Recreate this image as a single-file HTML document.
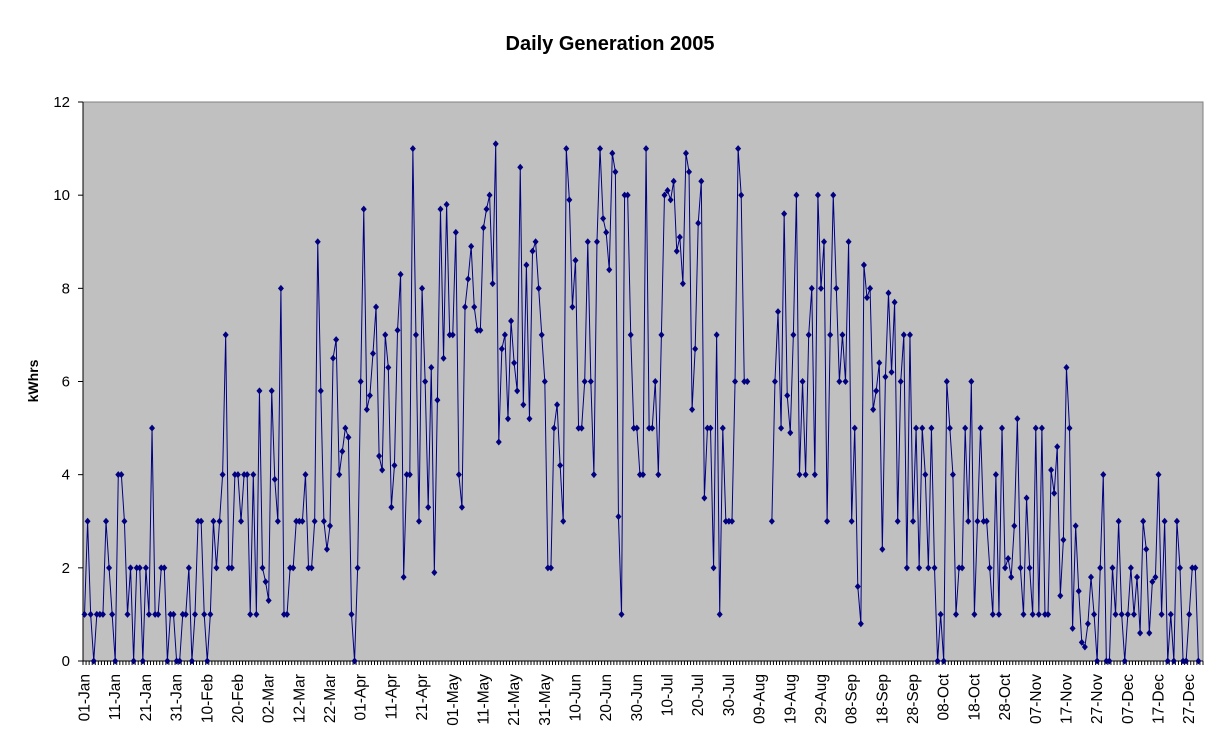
<!DOCTYPE html>
<html><head><meta charset="utf-8"><style>
html,body{margin:0;padding:0;background:#fff;}
svg{display:block;font-family:"Liberation Sans",Arial,sans-serif;}
</style></head><body>
<svg id="chart" width="1221" height="750" viewBox="0 0 1221 750" xmlns="http://www.w3.org/2000/svg">
<rect x="0" y="0" width="1221" height="750" fill="#fff"/>
<text x="610" y="50" text-anchor="middle" font-size="20" font-weight="bold">Daily Generation 2005</text>
<rect x="83" y="102" width="1120" height="559" fill="#C0C0C0" stroke="#808080" stroke-width="1"/>
<text transform="translate(38,381) rotate(-90)" text-anchor="middle" font-size="14" font-weight="bold">kWhrs</text>
<g id="axes"></g>
<g id="series"></g>
</svg>
<script>
const yTicks = [0,2,4,6,8,10,12];
const xTickLabels = ["01-Jan","11-Jan","21-Jan","31-Jan","10-Feb","20-Feb","02-Mar","12-Mar","22-Mar","01-Apr","11-Apr","21-Apr","01-May","11-May","21-May","31-May","10-Jun","20-Jun","30-Jun","10-Jul","20-Jul","30-Jul","09-Aug","19-Aug","29-Aug","08-Sep","18-Sep","28-Sep","08-Oct","18-Oct","28-Oct","07-Nov","17-Nov","27-Nov","07-Dec","17-Dec","27-Dec"];
const dailyKwh = [
1,3,1,0,1,1,1,3,2,1,0,4,4,3,1,2,0,2,2,0,2,1,5,1,1,2,2,0,1,1,0,0,1,1,2,
0,1,3,3,1,0,1,3,2,3,4,7,2,2,4,4,3,4,4,1,4,1,5.8,2,1.7,1.3,5.8,3.9,3,8,1,1,2,2,
3,3,3,4,2,2,3,9,5.8,3,2.4,2.9,6.5,6.9,4,4.5,5,4.8,1,0,2,6,9.7,5.4,5.7,6.6,7.6,4.4,4.1,7,6.3,3.3,4.2,7.1,8.3,
1.8,4,4,11,7,3,8,6,3.3,6.3,1.9,5.6,9.7,6.5,9.8,7,7,9.2,4,3.3,7.6,8.2,8.9,7.6,7.1,7.1,9.3,9.7,10,8.1,11.1,4.7,6.7,7,
5.2,7.3,6.4,5.8,10.6,5.5,8.5,5.2,8.8,9,8,7,6,2,2,5,5.5,4.2,3,11,9.9,7.6,8.6,5,5,6,9,6,4,9,11,9.5,9.2,8.4,
10.9,10.5,3.1,1,10,10,7,5,5,4,4,11,5,5,6,4,7,10,10.1,9.9,10.3,8.8,9.1,8.1,10.9,10.5,5.4,6.7,9.4,10.3,3.5,5,5,2,7,1,5,3,3,3,6,11,10,6,6,
null,null,null,null,null,null,null,
3,6,7.5,5,9.6,5.7,4.9,7,10,4,6,4,7,8,4,10,8,9,3,7,10,8,6,7,6,9,3,5,1.6,0.8,8.5,7.8,8,5.4,5.8,6.4,2.4,6.1,
7.9,6.2,7.7,3,6,7,2,7,3,5,2,5,4,2,5,2,0,1,0,6,5,4,1,2,2,5,3,6,1,3,5,3,3,2,1,4,1,5,2,2.2,1.8,2.9,5.2,2,1,3.5,2,1,5,1,5,1,1,4.1,3.6,
4.6,1.4,2.6,6.3,5,0.7,2.9,1.5,0.4,0.3,0.8,1.8,1,0,2,4,0,0,2,1,3,1,0,1,2,1,1.8,0.6,3,2.4,0.6,1.7,1.8,4,1,3,0,1,0,3,2,0,0,1,2,2,0
];
const NS="http://www.w3.org/2000/svg";
const L=83,T=102,W=1120,H=559,N=365,YMAX=12;
function xPos(i){return L+(i+0.5)*W/N;}
function yPos(v){return T+H-v/YMAX*H;}
function mk(tag,attrs,parent){const e=document.createElementNS(NS,tag);for(const k in attrs)e.setAttribute(k,attrs[k]);parent.appendChild(e);return e;}
const axes=document.getElementById('axes'), series=document.getElementById('series');
const ya=mk('line',{x1:L,y1:T,x2:L,y2:T+H,stroke:'#000','stroke-width':1},axes);


yTicks.forEach(v=>{
  const y=yPos(v);
  const t=mk('line',{x1:L-5,y1:y,x2:L,y2:y,stroke:'#000'},axes);
  
  
  const tx=mk('text',{x:L-13,y:y+5,'text-anchor':'end','font-size':15},axes);
  tx.textContent=v;
  
  
});
const xa=mk('line',{x1:L,y1:T+H,x2:L+W,y2:T+H,stroke:'#000','stroke-width':1},axes);


let d='';
for(let i=0;i<=N;i++){const x=(L+i*W/N).toFixed(2);d+='M'+x+' '+(T+H)+'V'+(T+H+4);}
const tk=mk('path',{d:d,stroke:'#000','stroke-width':1,fill:'none'},axes);


xTickLabels.forEach((lab,k)=>{
  const x=xPos(k*10);
  const tx=mk('text',{transform:'translate('+(x+5)+','+(T+H+13)+') rotate(-90)','text-anchor':'end','font-size':15.5},axes);
  tx.textContent=lab;
  
  
});
let pd='',pen=false;
dailyKwh.forEach((v,i)=>{
  if(v===null){pen=false;return;}
  pd+=(pen?'L':'M')+xPos(i).toFixed(2)+' '+yPos(v).toFixed(2);pen=true;
});
const ln=mk('path',{d:pd,stroke:'#000080','stroke-width':1,fill:'none'},series);


dailyKwh.forEach((v,i)=>{
  if(v===null)return;
  const x=xPos(i),y=yPos(v);
  const p=mk('path',{d:'M'+x+' '+(y-3.5)+'L'+(x+3)+' '+y+'L'+x+' '+(y+3.5)+'L'+(x-3)+' '+y+'Z',fill:'#000080'},series);
  
  
});
</script>
</body></html>
